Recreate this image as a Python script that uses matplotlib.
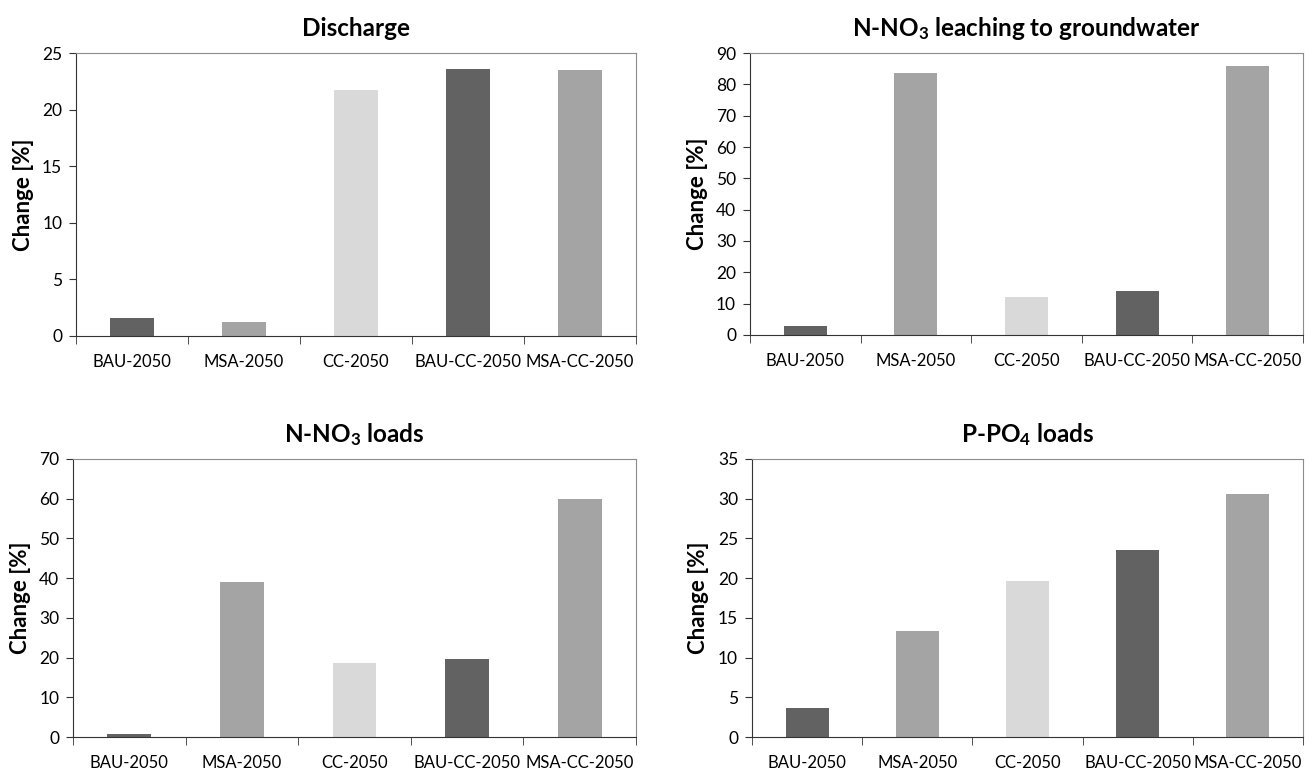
import matplotlib
matplotlib.use("Agg")
import matplotlib.pyplot as plt
import numpy as np

plt.rcParams['font.family'] = ['Lato', 'DejaVu Sans']
plt.rcParams['mathtext.default'] = 'regular'

# данные
scenarios = ["BAU-2050", "MSA-2050", "CC-2050", "BAU-CC-2050", "MSA-CC-2050"]
bar_colors = ["#626262", "#a4a4a4", "#d9d9d9", "#626262", "#a4a4a4"]

discharge = [1.6, 1.2, 21.7, 23.6, 23.5]
leaching = [2.8, 83.5, 12.1, 14.0, 85.7]
no3_loads = [0.8, 39.1, 18.7, 19.6, 60.0]
po4_loads = [3.6, 13.4, 19.7, 23.6, 30.6]

titles = ["Discharge", r"N-NO$_3$ leaching to groundwater",
          r"N-NO$_3$ loads", r"P-PO$_4$ loads"]
series = [discharge, leaching, no3_loads, po4_loads]
ytops = [25, 90, 70, 35]
ysteps = [5, 10, 10, 5]

# позиции областей [left, bottom, width, height]
boxes = [
    [0.0578, 0.5659, 0.4255, 0.3656],
    [0.5699, 0.5672, 0.4202, 0.3643],
    [0.0555, 0.0478, 0.4278, 0.3592],
    [0.5714, 0.0478, 0.4187, 0.3592],
]

fig = plt.figure(figsize=[13.16, 7.74], dpi=100)

x = np.arange(len(scenarios))
for box, title, vals, ytop, ystep in zip(boxes, titles, series, ytops, ysteps):
    ax = fig.add_axes(box)
    ax.bar(x, vals, width=0.39, color=bar_colors)
    ax.set_xlim(-0.5, len(scenarios) - 0.5)
    ax.set_ylim(0, ytop)
    ax.set_yticks(np.arange(0, ytop + 1, ystep))
    ax.set_xticks(x)
    ax.set_xticklabels(scenarios)
    ax.set_xticks(np.arange(-0.5, len(scenarios)), minor=True)
    ax.tick_params(axis='x', which='major', length=0, pad=13, labelsize=12)
    ax.tick_params(axis='x', which='minor', length=6, direction='out', color='#333333')
    ax.tick_params(axis='y', length=5, pad=5, direction='out', labelsize=12.5, color='#333333')
    ax.spines['left'].set_color('#333333')
    ax.spines['bottom'].set_color('#333333')
    ax.spines['top'].set_color('#8c8c8c')
    ax.spines['right'].set_color('#8c8c8c')
    ax.set_ylabel("Change [%]", fontsize=16, fontweight='bold', labelpad=6)
    ax.set_title(title, fontsize=17.5, fontweight='bold', pad=12)

plt.savefig("out.png", dpi=100)
